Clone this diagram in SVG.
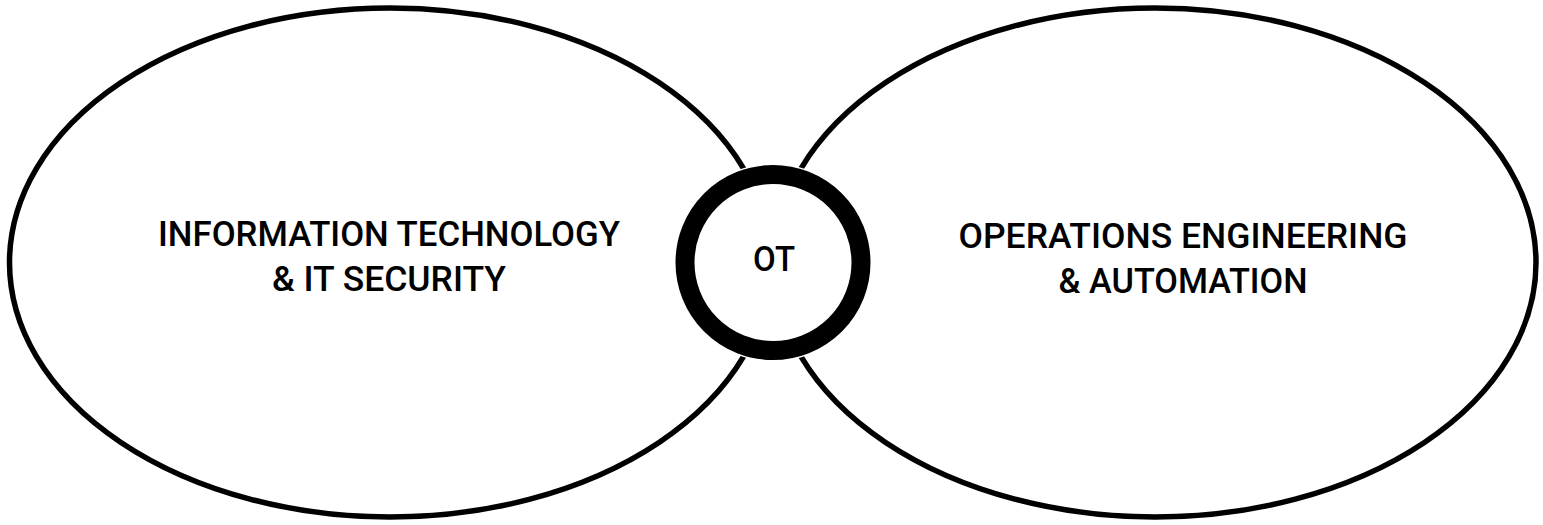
<svg xmlns="http://www.w3.org/2000/svg" width="1543" height="525" viewBox="0 0 1543 525">
<style>
.ell{fill:none;stroke:#000;stroke-width:5.5}
.lbl{font-family:Roboto,"Liberation Sans",sans-serif;font-size:35px;font-weight:500;fill:#000;text-anchor:middle}
</style>
<rect width="1543" height="525" fill="#fff"/>
<g id="it">
<ellipse class="ell" cx="390" cy="262.5" rx="380.5" ry="254.5"/>
<text class="lbl" x="389" y="246" textLength="462" lengthAdjust="spacingAndGlyphs">INFORMATION TECHNOLOGY</text>
<text class="lbl" x="389" y="291" textLength="234" lengthAdjust="spacingAndGlyphs">&amp; IT SECURITY</text>
</g>
<g id="oea">
<ellipse class="ell" cx="1155" cy="262.5" rx="381" ry="254.5"/>
<text class="lbl" x="1183" y="248" textLength="449" lengthAdjust="spacingAndGlyphs">OPERATIONS ENGINEERING</text>
<text class="lbl" x="1183" y="293" textLength="249" lengthAdjust="spacingAndGlyphs">&amp; AUTOMATION</text>
</g>
<g id="ot">
<circle cx="773" cy="262.5" r="92" fill="#fff" stroke="#fff" stroke-width="14"/>
<circle cx="773" cy="262.5" r="88" fill="#fff" stroke="#000" stroke-width="19"/>
<text class="lbl" x="774" y="271" textLength="42" lengthAdjust="spacingAndGlyphs">OT</text>
</g>
</svg>
